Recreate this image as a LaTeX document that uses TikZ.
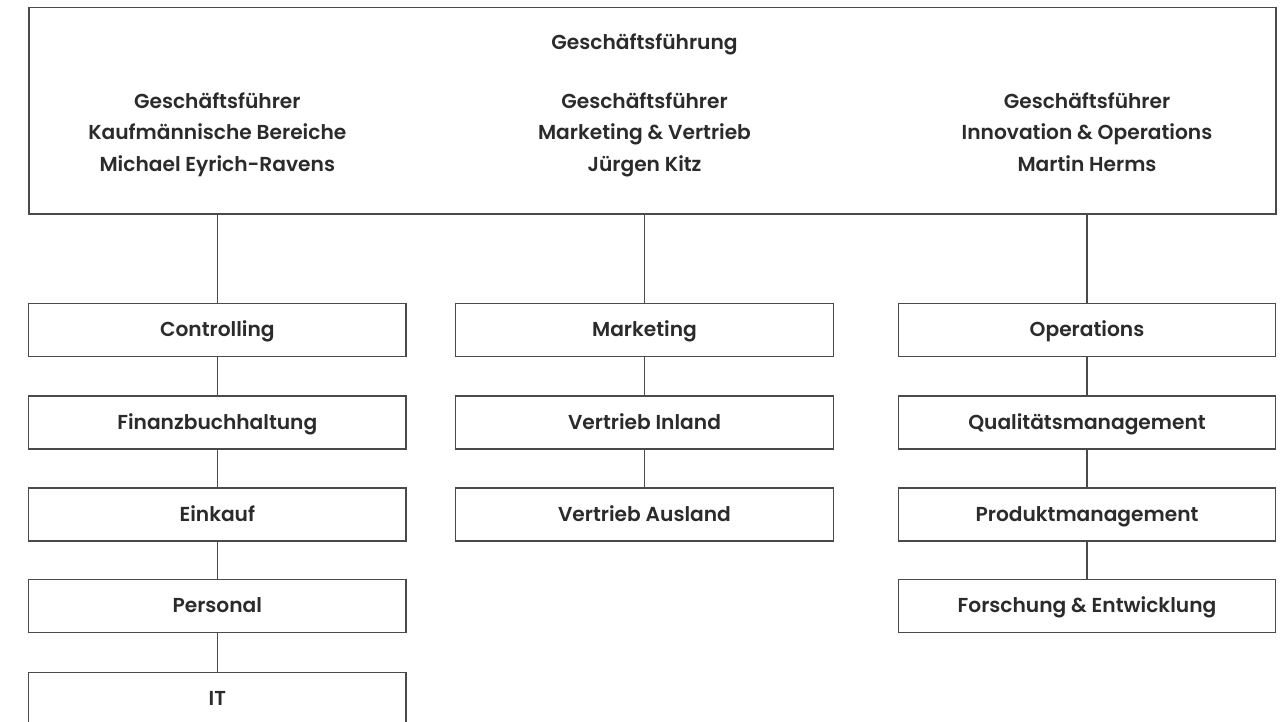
\documentclass[tikz,border=0pt]{standalone}
\usepackage{fontspec}
\setmainfont{Poppins}[BoldFont={Poppins SemiBold}]
\definecolor{txt}{HTML}{2B2B2B}
\definecolor{ln}{HTML}{4A4A4A}
\begin{document}
\begin{tikzpicture}[x=1pt,y=-1pt,
  box/.style={draw=ln,line width=1.4pt,minimum width=377.5pt,minimum height=53pt,inner sep=0pt,text=txt,text height=14pt,text depth=0.5pt,font=\fontsize{20.2}{23}\selectfont\bfseries},
  lbl/.style={text=txt,font=\fontsize{20.2}{23}\selectfont\bfseries,inner sep=0pt,anchor=base},
  link/.style={draw=ln,line width=1.4pt}]
\useasboundingbox (0,0) rectangle (1287,722);
\clip (0,0) rectangle (1287,722);
\node[draw=ln,line width=1.4pt,minimum width=1247pt,minimum height=206.5pt,inner sep=0pt] (top) at (652.5,110.75) {};
\node[lbl] (gf) at (644.5,49.3) {Geschäftsführung};
\node[lbl] (a1) at (217.3,108.3) {Geschäftsführer};
\node[lbl] (a2) at (217.3,140) {Kaufmännische Bereiche};
\node[lbl] (a3) at (217.3,171.7) {Michael Eyrich-Ravens};
\node[lbl] (b1) at (644.5,108.3) {Geschäftsführer};
\node[lbl] (b2) at (644.5,140) {Marketing \& Vertrieb};
\node[lbl] (b3) at (644.5,171.7) {Jürgen Kitz};
\node[lbl] (c1) at (1087,108.3) {Geschäftsführer};
\node[lbl] (c2) at (1087,140) {Innovation \& Operations};
\node[lbl] (c3) at (1087,171.7) {Martin Herms};
% left column
\node[box] (l1) at (217.3,330.2) {Controlling};
\node[box] (l2) at (217.3,422.3) {Finanzbuchhaltung};
\node[box] (l3) at (217.3,514.3) {Einkauf};
\node[box] (l4) at (217.3,606.2) {Personal};
\node[box] (l5) at (217.3,698.8) {IT};
% middle column
\node[box] (m1) at (644.5,330.2) {Marketing};
\node[box] (m2) at (644.5,422.3) {Vertrieb Inland};
\node[box] (m3) at (644.5,514.3) {Vertrieb Ausland};
% right column
\node[box] (r1) at (1087,330.2) {Operations};
\node[box] (r2) at (1087,422.3) {Qualitätsmanagement};
\node[box] (r3) at (1087,514.3) {Produktmanagement};
\node[box] (r4) at (1087,606.2) {Forschung \& Entwicklung};
% connectors
\draw[link] (l1.north) -- (l1.north |- top.south);
\draw[link] (m1.north) -- (m1.north |- top.south);
\draw[link] (r1.north) -- (r1.north |- top.south);
\draw[link] (l1) -- (l2); \draw[link] (l2) -- (l3); \draw[link] (l3) -- (l4); \draw[link] (l4) -- (l5);
\draw[link] (m1) -- (m2); \draw[link] (m2) -- (m3);
\draw[link] (r1) -- (r2); \draw[link] (r2) -- (r3); \draw[link] (r3) -- (r4);
\end{tikzpicture}
\end{document}
